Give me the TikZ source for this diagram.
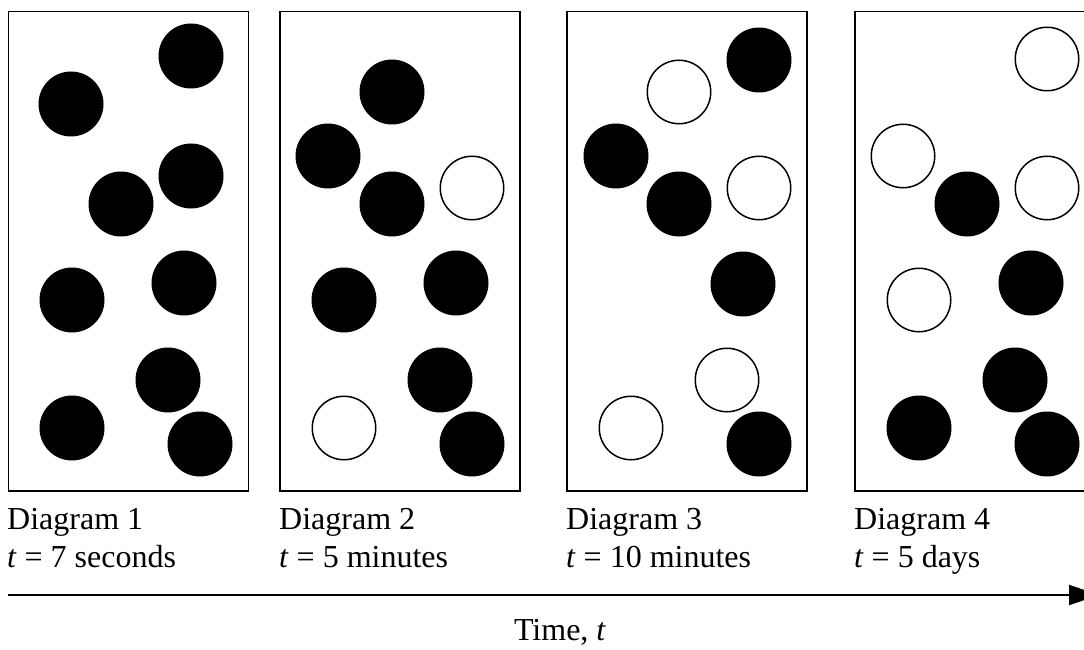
\documentclass[tikz,border=0pt]{standalone}
\usepackage{fontspec}
\setmainfont{Liberation Serif}
\usetikzlibrary{arrows.meta}

\tikzset{
  ball/.style={circle, fill=black, inner sep=0pt, minimum size=65pt},
  hollow/.style={circle, draw=black, line width=1.5pt, fill=white, inner sep=0pt, minimum size=63.5pt},
  panel/.style={draw=black, line width=1.5pt, inner sep=0pt, minimum width=240pt, minimum height=479.5pt},
  caption/.style={anchor=base west, inner sep=0pt, font=\fontsize{32}{38}\selectfont},
}

\begin{document}
\begin{tikzpicture}[x=1pt, y=-1pt]
    \clip (0,0) rectangle (1084,650);

    % the four panels
    \node[panel] (panel1) at (128.5,251.3) {};
    \node[panel] (panel2) at (400,251.3) {};
    \node[panel] (panel3) at (687,251.3) {};
    \node[panel] (panel4) at (975,251.3) {};

    % panel 1
    \foreach \x/\y [count=\i] in {191/56, 71/104, 121/204, 191/176, 72/300, 184/283, 168/380, 72/428, 200/444}
        \node[ball] (p1b\i) at (\x,\y) {};

    % panel 2
    \foreach \x/\y [count=\i] in {392/92, 328/156, 392/204, 344/300, 456/283, 440/380, 472/444}
        \node[ball] (p2b\i) at (\x,\y) {};
    \foreach \x/\y [count=\i] in {472/188, 344/428}
        \node[hollow] (p2h\i) at (\x,\y) {};

    % panel 3
    \foreach \x/\y [count=\i] in {759/60, 616/156, 679/204, 743/284, 759/444}
        \node[ball] (p3b\i) at (\x,\y) {};
    \foreach \x/\y [count=\i] in {679/92, 759/188, 727/380, 631/428}
        \node[hollow] (p3h\i) at (\x,\y) {};

    % panel 4
    \foreach \x/\y [count=\i] in {967/204, 1031/283, 1015/380, 919/428, 1047/444}
        \node[ball] (p4b\i) at (\x,\y) {};
    \foreach \x/\y [count=\i] in {1047/59, 903/156, 1047/188, 919/300}
        \node[hollow] (p4h\i) at (\x,\y) {};

    % captions
    \node[caption] (name1) at (7,529) {Diagram 1};
    \node[caption] (time1) at (7,567) {\textit{t} = 7 seconds};
    \node[caption] (name2) at (279,529) {Diagram 2};
    \node[caption] (time2) at (279,567) {\textit{t} = 5 minutes};
    \node[caption] (name3) at (566,529) {Diagram 3};
    \node[caption] (time3) at (566,567) {\textit{t} = 10 minutes};
    \node[caption] (name4) at (854,529) {Diagram 4};
    \node[caption] (time4) at (854,567) {\textit{t} = 5 days};

    % time axis
    \coordinate (tstart) at (8,595);
    \coordinate (tend) at (1099,595);
    \draw[line width=2pt, -{Triangle[length=30pt, width=20pt]}] (tstart) -- (tend);
    \node[caption, anchor=base] (timelab) at (560,640) {Time, \textit{t}};
\end{tikzpicture}
\end{document}
